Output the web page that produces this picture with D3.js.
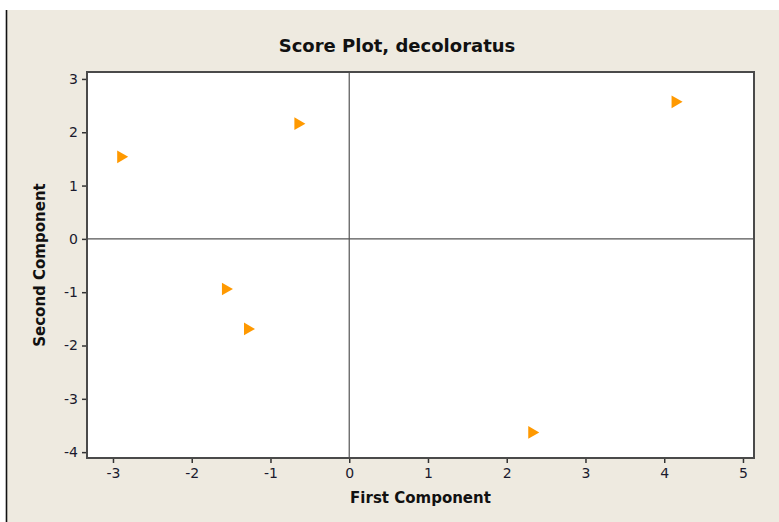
<!DOCTYPE html>
<html>
<head>
<meta charset="utf-8">
<script src="https://cdn.jsdelivr.net/npm/d3@7"></script>
<style>
  body { margin: 0; background: #fff; }
  text { font-family: Tahoma, "DejaVu Sans", Verdana, sans-serif; fill: #111; }
  .tick text { font-size: 14px; fill: #1a1a2e; }
  .tick line { stroke: #333; stroke-width: 1.5; }
  .title { font-size: 18px; font-weight: bold; }
  .axlabel { font-size: 15px; font-weight: bold; }
</style>
</head>
<body>
<div id="chart"></div>
<script>
// scores on first / second component
var pc1 = [4.14, -2.9, -0.65, -1.57, -1.29, 2.32];
var pc2 = [2.57, 1.54, 2.16, -0.94, -1.69, -3.63];
var xTicks = [-3, -2, -1, 0, 1, 2, 3, 4, 5];
var yTicks = [-4, -3, -2, -1, 0, 1, 2, 3];

var W = 779, H = 522;
var m = { left: 87, top: 72, right: 754, bottom: 458 };

var svg = d3.select("#chart")
    .append("svg")
    .attr("width", W)
    .attr("height", H);

// beige panel with the dark left rule
svg.append("rect")
    .attr("x", 7).attr("y", 10)
    .attr("width", W - 7).attr("height", H - 10)
    .attr("fill", "#eeeae0");
svg.append("line")
    .attr("x1", 6.5).attr("x2", 6.5)
    .attr("y1", 10).attr("y2", H)
    .attr("stroke", "#111")
    .attr("stroke-width", 1.6);

var x = d3.scaleLinear().domain([-3.33, 5.14]).range([m.left, m.right]);
var y = d3.scaleLinear().domain([-4.11, 3.13]).range([m.bottom, m.top]);

svg.append("rect")
    .attr("x", m.left).attr("y", m.top)
    .attr("width", m.right - m.left).attr("height", m.bottom - m.top)
    .attr("fill", "#fff");

// reference lines at zero
svg.append("line")
    .attr("x1", x(0)).attr("x2", x(0))
    .attr("y1", m.top).attr("y2", m.bottom)
    .attr("stroke", "#555").attr("stroke-width", 1.2);
svg.append("line")
    .attr("x1", m.left).attr("x2", m.right)
    .attr("y1", y(0)).attr("y2", y(0))
    .attr("stroke", "#555").attr("stroke-width", 1.2);

var fmt = function(d) { return String(d); };

var xAxis = svg.append("g")
    .attr("transform", "translate(0," + m.bottom + ")")
    .call(d3.axisBottom(x).tickValues(xTicks).tickFormat(fmt).tickSize(5).tickPadding(5));
xAxis.select(".domain").remove();

var yAxis = svg.append("g")
    .attr("transform", "translate(" + m.left + ",0)")
    .call(d3.axisLeft(y).tickValues(yTicks).tickFormat(fmt).tickSize(5).tickPadding(4));
yAxis.select(".domain").remove();

svg.selectAll(".tick text").attr("font-family", null).attr("font-size", null);

// frame
svg.append("rect")
    .attr("x", m.left).attr("y", m.top)
    .attr("width", m.right - m.left).attr("height", m.bottom - m.top)
    .attr("fill", "none")
    .attr("stroke", "#4a4a4a")
    .attr("stroke-width", 2);

var tri = d3.symbol().type(d3.symbolTriangle).size(70);
svg.append("g")
    .selectAll("path")
    .data(pc1)
    .join("path")
    .attr("d", tri)
    .attr("transform", function(d, i) {
        return "translate(" + x(d) + "," + y(pc2[i]) + ") rotate(90)";
    })
    .attr("fill", "#ff9900");

svg.append("text")
    .attr("class", "title")
    .attr("x", 397)
    .attr("y", 52)
    .attr("text-anchor", "middle")
    .text("Score Plot, decoloratus");

svg.append("text")
    .attr("class", "axlabel")
    .attr("x", (m.left + m.right) / 2)
    .attr("y", 503)
    .attr("text-anchor", "middle")
    .text("First Component");

svg.append("text")
    .attr("class", "axlabel")
    .attr("transform", "translate(45," + (m.top + m.bottom) / 2 + ") rotate(-90)")
    .attr("text-anchor", "middle")
    .text("Second Component");
</script>
</body>
</html>
